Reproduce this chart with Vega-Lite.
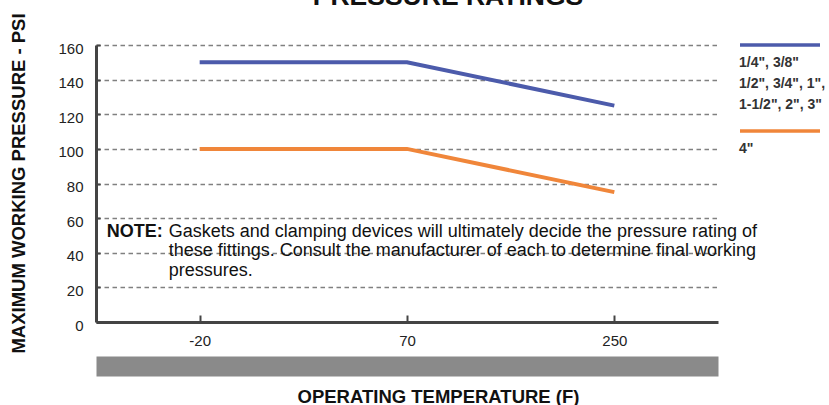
{
  "$schema": "https://vega.github.io/schema/vega-lite/v6.json",
  "width": 622,
  "height": 277,
  "autosize": {"type": "none"},
  "padding": {"left": 96, "top": 45, "right": 111, "bottom": 83},
  "background": "white",
  "title": {
    "text": "PRESSURE RATINGS",
    "font": "Liberation Sans",
    "fontSize": 26.5,
    "fontWeight": "bold",
    "color": "#111111",
    "anchor": "middle",
    "frame": "group",
    "baseline": "alphabetic",
    "offset": -19,
    "dx": 41
  },
  "config": {
    "view": {"stroke": null},
    "font": "Liberation Sans",
    "axisY": {"tickCount": 9, "labelOverlap": false}
  },
  "datasets": {
    "ratings": [
      {"temp": "-20", "psi": 150, "size": "1/4\", 3/8\"|1/2\", 3/4\", 1\",|1-1/2\", 2\", 3\""},
      {"temp": "70", "psi": 150, "size": "1/4\", 3/8\"|1/2\", 3/4\", 1\",|1-1/2\", 2\", 3\""},
      {"temp": "250", "psi": 125, "size": "1/4\", 3/8\"|1/2\", 3/4\", 1\",|1-1/2\", 2\", 3\""},
      {"temp": "-20", "psi": 100, "size": "4\""},
      {"temp": "70", "psi": 100, "size": "4\""},
      {"temp": "250", "psi": 75, "size": "4\""}
    ],
    "note": [
      {"head": "NOTE:", "body": "Gaskets and clamping devices will ultimately decide the pressure rating of|these fittings. Consult the manufacturer of each to determine final working|pressures."}
    ]
  },
  "layer": [
    {
      "data": {"name": "ratings"},
      "mark": {"type": "line", "strokeWidth": 4, "strokeCap": "butt"},
      "encoding": {
        "x": {
          "field": "temp",
          "type": "ordinal",
          "sort": ["-20", "70", "250"],
          "scale": {"type": "point", "padding": 0.5},
          "axis": {
            "title": "OPERATING TEMPERATURE (F)",
            "titleFont": "Liberation Sans",
            "titleFontSize": 18.5,
            "titleFontWeight": "bold",
            "titleColor": "#111111",
            "titleX": 342,
            "titleY": 80,
            "titleBaseline": "alphabetic",
            "titleAlign": "center",
            "labelAngle": 0,
            "labelFont": "Liberation Sans",
            "labelFontSize": 15,
            "labelColor": "#222222",
            "labelPadding": 18,
            "domainColor": "#444444",
            "domainWidth": 3,
            "tickColor": "#444444",
            "tickSize": -7,
            "tickWidth": 2,
            "grid": false
          }
        },
        "y": {
          "field": "psi",
          "type": "quantitative",
          "scale": {"domain": [0, 160], "nice": false},
          "axis": {
            "title": "MAXIMUM WORKING PRESSURE - PSI",
            "titleFont": "Liberation Sans",
            "titleFontSize": 18.5,
            "titleFontWeight": "bold",
            "titleColor": "#111111",
            "titleAngle": -90,
            "titleX": -78,
            "titleY": 138,
            "titleBaseline": "middle",
            "titleAlign": "center",
            "values": [0, 20, 40, 60, 80, 100, 120, 140, 160],
            "tickCount": 9,
            "labelOverlap": false,
            "grid": true,
            "gridDash": [4.5, 3.5],
            "gridColor": "#808080",
            "gridWidth": 1.5,
            "domainColor": "#444444",
            "domainWidth": 3,
            "tickColor": "#444444",
            "tickSize": -4,
            "tickWidth": 2,
            "labelFont": "Liberation Sans",
            "labelFontSize": 15,
            "labelColor": "#222222",
            "labelPadding": 17,
            "labelOffset": 3
          }
        },
        "color": {
          "field": "size",
          "type": "nominal",
          "scale": {
            "domain": ["1/4\", 3/8\"|1/2\", 3/4\", 1\",|1-1/2\", 2\", 3\"", "4\""],
            "range": ["#4c5bab", "#f0863a"]
          },
          "legend": {
            "orient": "none",
            "legendX": 642,
            "legendY": 0,
            "direction": "vertical",
            "title": null,
            "symbolType": "stroke",
            "symbolSize": 6400,
            "symbolStrokeWidth": 3.5,
            "labelFont": "Liberation Sans",
            "labelFontSize": 14,
            "labelFontWeight": "bold",
            "labelColor": "#333333",
            "labelExpr": "split(datum.label, '|')",
            "labelOffset": -83,
            "labelBaseline": "alphabetic",
            "labelLimit": 300,
            "rowPadding": 12,
            "encode": {
              "symbols": {"update": {"y": {"value": 0}}},
              "labels": {"update": {"y": {"value": 22}, "lineHeight": {"value": 21}}}
            }
          }
        }
      }
    },
    {
      "data": {"name": "note"},
      "mark": {"type": "text", "align": "left", "baseline": "alphabetic", "dx": -93, "font": "Liberation Sans", "fontSize": 18, "fontWeight": "bold", "color": "#111111"},
      "encoding": {
        "x": {
          "datum": "-20",
          "type": "ordinal",
          "axis": {
            "orient": "bottom",
            "offset": 44,
            "domain": true,
            "domainWidth": 20,
            "domainColor": "#8a8a8a",
            "domainCap": "butt",
            "labels": false,
            "ticks": false,
            "grid": false,
            "title": null
          }
        },
        "y": {"datum": 49.3, "type": "quantitative"},
        "text": {"field": "head"}
      }
    },
    {
      "data": {"name": "note"},
      "mark": {"type": "text", "align": "left", "baseline": "alphabetic", "dx": -31, "font": "Liberation Sans", "fontSize": 18, "color": "#111111", "lineBreak": "|", "lineHeight": 19.5},
      "encoding": {
        "x": {
          "datum": "-20",
          "type": "ordinal",
          "axis": {
            "orient": "bottom",
            "offset": 44,
            "domain": false,
            "labels": false,
            "ticks": false,
            "grid": false,
            "title": null
          }
        },
        "y": {"datum": 49.3, "type": "quantitative"},
        "text": {"field": "body"}
      }
    }
  ],
  "resolve": {"axis": {"x": "independent"}}
}
